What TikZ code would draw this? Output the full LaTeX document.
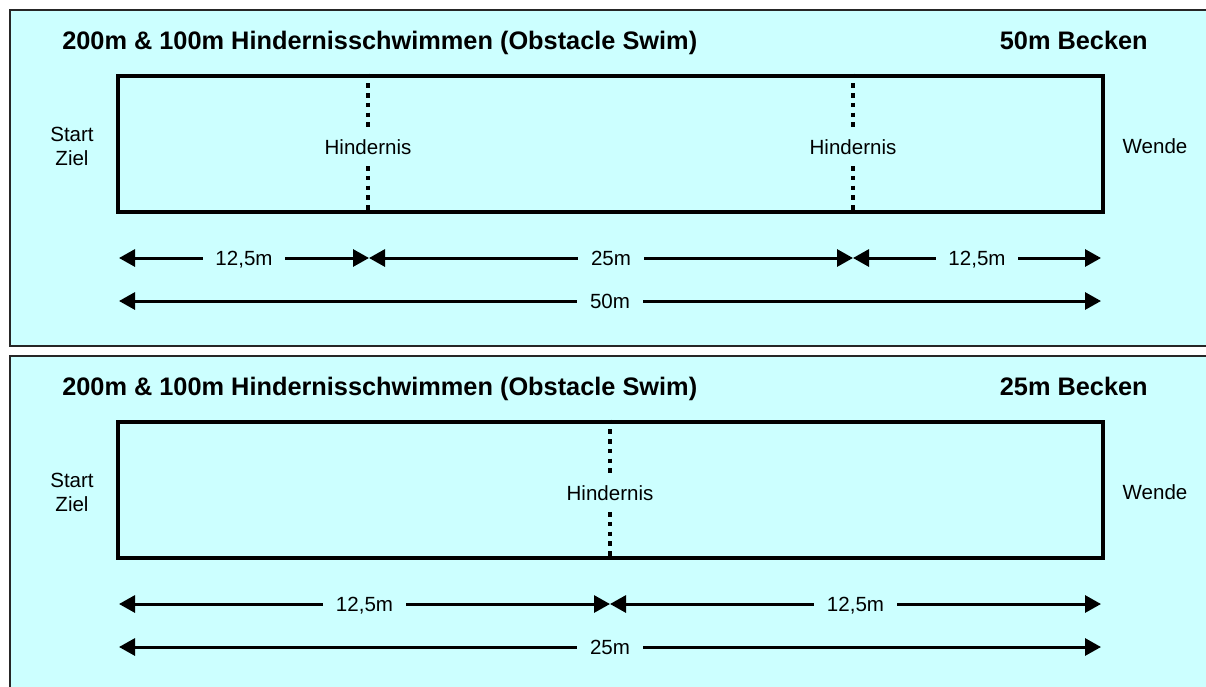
\documentclass[tikz,border=0pt]{standalone}
\usepackage{fontspec}
\setmainfont{Liberation Sans}
\usepackage{xcolor}
\usepackage{tikz}
\usetikzlibrary{arrows.meta}

\definecolor{poolbg}{HTML}{CCFFFF}

\tikzset{
  panel/.style={draw=black!85, line width=1pt, fill=poolbg},
  pool/.style={draw, line width=3.4pt, inner sep=0pt, minimum width=738.75pt, minimum height=102pt},
  lane/.style={line width=3pt, dash pattern=on 3.4pt off 3.9pt},
  dimline/.style={line width=2.25pt, {Triangle[length=12pt,width=12.75pt]}-{Triangle[length=12pt,width=12.75pt]}},
  dimlabel/.style={fill=poolbg, inner xsep=9.5pt, inner ysep=1pt, text height=11.1pt, text depth=0pt, font=\fontsize{15.4}{18}\selectfont},
  heading/.style={inner sep=0pt, font=\fontsize{19}{22}\selectfont\bfseries},
  side/.style={align=center, inner sep=0pt, font=\fontsize{15.4}{18}\selectfont},
  obstacle/.style={inner xsep=0pt, inner ysep=8.5pt, font=\fontsize{15.4}{18}\selectfont}
}

\begin{document}
\begin{tikzpicture}[x=0.75pt, y=-0.75pt]
  \useasboundingbox (0,0) rectangle (1206,686);
  \clip (0,0) rectangle (1206,686);
  \fill[white] (0,0) rectangle (1206,686);

  % 50m Becken
  \draw[panel] (10,10) rectangle (1220,346);
  \node[heading, anchor=base west] (title50) at (62,49) {200m \& 100m Hindernisschwimmen (Obstacle Swim)};
  \node[heading, anchor=base east] (becken50) at (1148,49) {50m Becken};
  \node[pool] (pool50) at (610.5,144) {};
  \node[side] (start50) at (72,146) {Start\\Ziel};
  \node[side] (wende50) at (1155,146) {Wende};
  \foreach \x/\n in {368/a, 853/b} {
    \node[obstacle] (hind50\n) at (\x,147) {Hindernis};
    \draw[lane] (hind50\n.north |- pool50.north) -- (hind50\n.north);
    \draw[lane] (hind50\n.south) -- (hind50\n.south |- pool50.south);
  }
  \coordinate (d50a) at (119,258);
  \coordinate (d50b) at (369,258);
  \coordinate (d50c) at (853,258);
  \coordinate (d50d) at (1101,258);
  \coordinate (t50a) at (119,301);
  \coordinate (t50b) at (1101,301);
  \draw[dimline] (d50a) -- node[dimlabel] {12,5m} (d50b);
  \draw[dimline] (d50b) -- node[dimlabel] {25m} (d50c);
  \draw[dimline] (d50c) -- node[dimlabel] {12,5m} (d50d);
  \draw[dimline] (t50a) -- node[dimlabel] {50m} (t50b);

  % 25m Becken
  \draw[panel] (10,356) rectangle (1220,700);
  \node[heading, anchor=base west] (title25) at (62,395) {200m \& 100m Hindernisschwimmen (Obstacle Swim)};
  \node[heading, anchor=base east] (becken25) at (1148,395) {25m Becken};
  \node[pool] (pool25) at (610.5,490) {};
  \node[side] (start25) at (72,492) {Start\\Ziel};
  \node[side] (wende25) at (1155,492) {Wende};
  \node[obstacle] (hind25) at (610,493) {Hindernis};
  \draw[lane] (hind25.north |- pool25.north) -- (hind25.north);
  \draw[lane] (hind25.south) -- (hind25.south |- pool25.south);
  \coordinate (d25a) at (119,604);
  \coordinate (d25b) at (610,604);
  \coordinate (d25c) at (1101,604);
  \coordinate (t25a) at (119,647);
  \coordinate (t25b) at (1101,647);
  \draw[dimline] (d25a) -- node[dimlabel] {12,5m} (d25b);
  \draw[dimline] (d25b) -- node[dimlabel] {12,5m} (d25c);
  \draw[dimline] (t25a) -- node[dimlabel] {25m} (t25b);
\end{tikzpicture}
\end{document}
